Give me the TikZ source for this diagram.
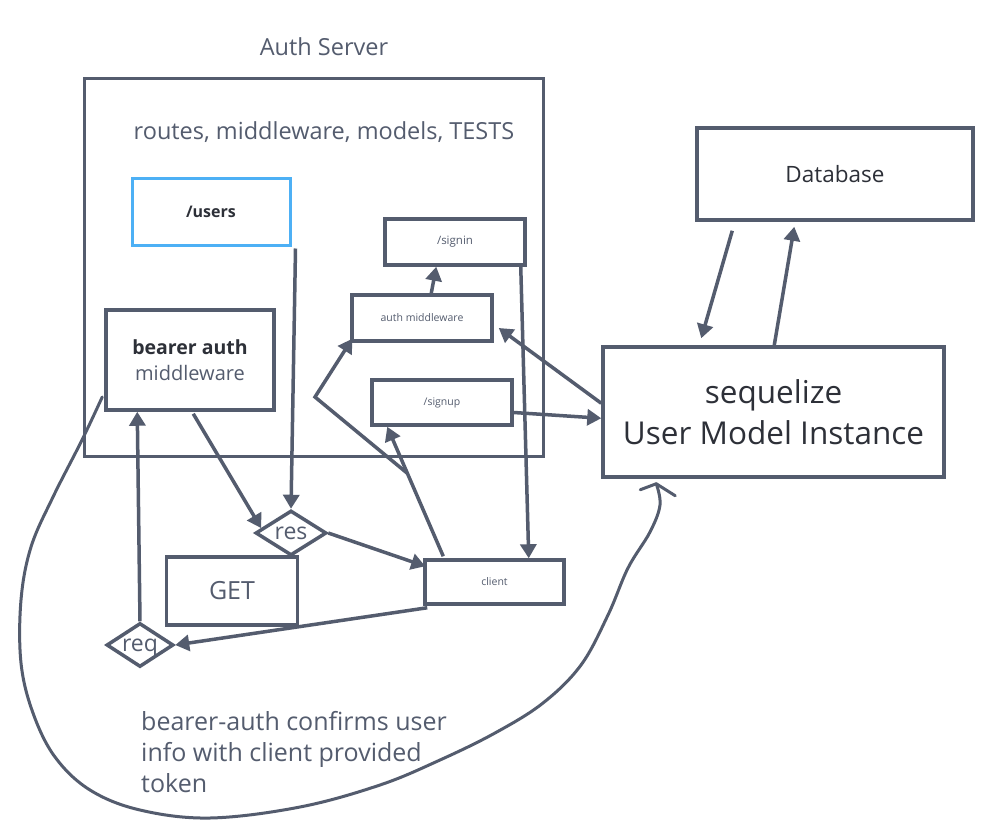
\documentclass[tikz,border=0pt]{standalone}
\usepackage{fontspec}
\setmainfont{Open Sans}
\usetikzlibrary{arrows.meta,calc,shapes.geometric}
\definecolor{linec}{RGB}{84,92,110}
\definecolor{textc}{RGB}{84,92,110}
\definecolor{darkt}{RGB}{45,48,56}
\definecolor{bluec}{RGB}{77,176,245}
\tikzset{
  box/.style={draw=linec, line width=3.5pt, rectangle, inner sep=0pt, text=textc},
  smallbox/.style={box, minimum width=140pt, minimum height=46pt, font=\fontsize{10.5}{12}\selectfont},
  dia/.style={draw=linec, line width=3.5pt, diamond, inner sep=0pt, text=textc, aspect=1.5},
  conn/.style={draw=linec, line width=3.5pt, -{Triangle[length=14pt,width=16pt]}},
  plain/.style={draw=linec, line width=3.5pt},
  lbl/.style={text=textc, inner sep=0pt}
}
\begin{document}
\begin{tikzpicture}[x=1pt,y=-1pt]
\useasboundingbox[fill=white] (0,0) rectangle (1001,830);
% Auth server frame
\node[box, line width=3pt, minimum width=459pt, minimum height=378pt] (auth) at (313.5,267) {};
\node[lbl, font=\fontsize{23.5}{28}\selectfont] (authlbl) at (324,47) {Auth Server};
\node[lbl, font=\fontsize{23.5}{28}\selectfont] (routes) at (324,132) {routes, middleware, models, TESTS};
% boxes
\node[box, draw=bluec, line width=3pt, minimum width=158pt, minimum height=67pt, font=\bfseries\fontsize{16}{18}\selectfont, text=darkt] (users) at (211,211.5) {/users};
\node[box, minimum width=168pt, minimum height=100pt, align=center, font=\fontsize{20}{26}\selectfont] (bearer) at (190,360) {\textbf{\color{darkt}\fontsize{19.5}{26}\selectfont bearer auth}\\middleware};
\node[smallbox, font=\fontsize{11.5}{13}\selectfont] (signin) at (455,242) {/signin};
\node[smallbox] (authmw) at (422,318) {auth middleware};
\node[smallbox, minimum height=45pt] (signup) at (442,402.5) {/signup};
\node[box, minimum width=276pt, minimum height=92pt, font=\fontsize{22.5}{26}\selectfont, text=darkt] (db) at (835,174) {Database};
\node[box, minimum width=341pt, minimum height=130pt, align=center, font=\fontsize{31.5}{41}\selectfont, text=darkt] (seq) at (773.5,412) {sequelize\\User Model Instance};
\node[dia, minimum width=71pt, minimum height=45pt] (res) at (291,533) {};
\node[lbl, font=\fontsize{23}{26}\selectfont] (restxt) at (291,533) {res};
\node[box, minimum width=131pt, minimum height=68pt, font=\fontsize{25}{28}\selectfont] (get) at (232,591) {GET};
\node[box, minimum width=139pt, minimum height=44pt, font=\fontsize{10.5}{12}\selectfont] (client) at (494.5,582) {client};
\node[dia, minimum width=67pt, minimum height=44pt] (req) at (140,645) {};
\node[lbl, font=\fontsize{23}{26}\selectfont] (reqtxt) at (140,648) {req};
\node[lbl, anchor=west, align=left, font=\fontsize{25}{31}\selectfont] (note) at (141,752) {bearer-auth confirms user\\info with client provided\\token};
% connectors
\draw[conn] ($(users.south east)+(4,2)$) -- (res.north);
\draw[conn] ($(bearer.south west)+(89,2)$) -- ($(res.west)!0.2!(res.north)$);
\draw[conn] (res.east) -- ($(client.north west)+(2,8)$);
\draw[conn] ($(client.south west)+(4,2)$) -- (req.east);
\draw[conn] (req.north) -- ($(bearer.south west)+(33,0)$);
\draw[conn] ($(signin.south east)+(-6,0)$) -- ($(client.north east)+(-37,0)$);
\draw[conn] ($(client.north west)+(20,-2)$) -- ($(signup.south west)+(17,0)$);
\coordinate (pfree) at (407,473);
\coordinate (pbend) at (315,397);
\draw[conn] (pfree) -- (pbend) -- ($(authmw.south west)+(2,-4)$);
\draw[conn] ($(authmw.north west)+(81,0)$) -- ($(signin.south west)+(53,0)$);
\draw[conn] ($(seq.north west)+(0,58)$) -- ($(authmw.east)+(5,10)$);
\draw[conn] ($(signup.east)+(0,10)$) -- ($(seq.north west)+(0,73)$);
\draw[conn] ($(db.south west)+(37,9)$) -- ($(seq.north west)+(100,-7)$);
\draw[conn] ($(seq.north west)+(173,0)$) -- ($(db.south west)+(99,5)$);
% long curve
\coordinate (cstart) at ($(bearer.west)+(-2,37)$);
\coordinate (cend) at ($(seq.south west)+(55,5)$);
\draw[plain, line width=3pt, line cap=round, line join=round] plot[smooth, tension=0.6] coordinates {(cstart) (82,440) (53,497) (31,547) (21,600) (21,663) (33,713) (55,757) (90,790) (140,810) (210,818) (300,807) (380,785) (440,760) (495,733) (543,703) (581,665) (608,615) (628,568) (650,532) (660,505) (cend)};
\draw[plain, line width=3pt, line cap=round, line join=round] ([shift={(-16,6)}]cend) -- (cend) -- ([shift={(19,12)}]cend);
\end{tikzpicture}
\end{document}
